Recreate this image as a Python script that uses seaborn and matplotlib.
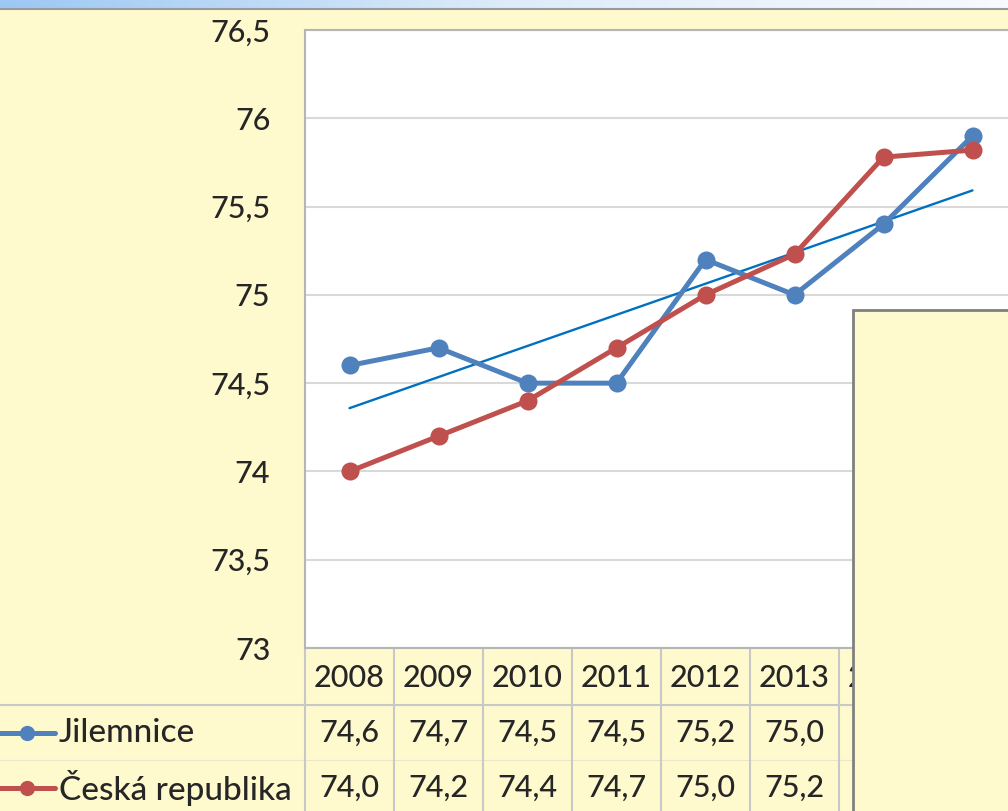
import numpy as np
import pandas as pd
import matplotlib
matplotlib.use("Agg")
import matplotlib.pyplot as plt
import matplotlib.transforms as mtransforms
from matplotlib.patches import Rectangle
from matplotlib.lines import Line2D
import seaborn as sns

# data
years = ["2008", "2009", "2010", "2011", "2012", "2013", "2014", "2015"]
jilemnice = [74.6, 74.7, 74.5, 74.5, 75.2, 75.0, 75.4, 75.9]
cesko = [74.0, 74.2, 74.4, 74.7, 75.0, 75.23, 75.78, 75.82]
series_names = ["Jilemnice", "Česká republika"]
yticks = [73, 73.5, 74, 74.5, 75, 75.5, 76, 76.5]

BG = "#FFFACD"
BLUE = "#4F81BD"
RED = "#C0504D"
GRID = "#D9D9D9"

sns.set_theme(style="white")
plt.rcParams["font.family"] = ["Lato", "DejaVu Sans"]

W, H = 1008, 811
fig = plt.figure(figsize=(W / 100, H / 100), dpi=100)
fig.patch.set_facecolor(BG)


def fx(x):
    return x / W


def fy(y):
    return 1 - y / H


# blue title-bar strip at the top
strip = fig.add_axes([0, fy(8), 1, 8 / H])
grad = np.linspace(0, 1, 256).reshape(1, -1)
cmap = matplotlib.colors.LinearSegmentedColormap.from_list("bar", ["#9CC8F4", "#DDEBFA", "#F7FAFF"])
strip.imshow(grad, aspect="auto", cmap=cmap, extent=[0, 1, 0, 1])
strip.axis("off")
fig.add_artist(Line2D([0, 1], [fy(9), fy(9)], color="#9A9A9A", lw=1.5))

# plot area (extends beyond the right edge, as in the screenshot)
ax = fig.add_axes([fx(305), fy(648), 712 / W, 618 / H])
ax.set_facecolor("white")

df = pd.DataFrame({
    "idx": list(range(len(years))) * 2,
    "value": jilemnice + cesko,
    "series": [series_names[0]] * len(years) + [series_names[1]] * len(years),
})
sns.lineplot(data=df, x="idx", y="value", hue="series", palette=[BLUE, RED],
             marker="o", markersize=13, markeredgewidth=0, linewidth=3.6,
             legend=False, ax=ax, zorder=3)

# linear trend of Jilemnice
xs = np.arange(len(years))
k, q = np.polyfit(xs, jilemnice, 1)
ax.plot(xs, k * xs + q, color="#0070C0", lw=1.7, zorder=2)

ax.set_xlim(-0.5, len(years) - 0.5)
ax.set_ylim(73, 76.5)
ax.set_yticks(yticks)
ax.set_yticklabels([f"{v:g}".replace(".", ",") for v in yticks], fontsize=22,
                   fontweight="medium")
ax.tick_params(axis="y", length=0, pad=25)
ax.set_xticks([])
ax.set_xlabel("")
ax.set_ylabel("")
ax.yaxis.grid(True, color=GRID, lw=1.5)
ax.set_axisbelow(True)
for s in ax.spines.values():
    s.set_color("#B5B5B5")
    s.set_linewidth(1.5)

# data table below the plot
tr = mtransforms.blended_transform_factory(ax.transData, fig.transFigure)
line_c = "#C8C8C8"
for i in range(len(years) + 1):
    ax.add_line(Line2D([i - 0.5, i - 0.5], [fy(648), 0], color=line_c, lw=1.5,
                       transform=tr, clip_on=False))
fig.add_artist(Line2D([0, 1], [fy(705), fy(705)], color=line_c, lw=1.5))
fig.add_artist(Line2D([0, 1], [fy(760), fy(760)], color=line_c, lw=0.8, alpha=0.4))

for i, yr in enumerate(years):
    ax.text(i, fy(678), yr, transform=tr, ha="center", va="center",
            fontsize=22, fontweight="medium", clip_on=False)
    ax.text(i, fy(733), f"{jilemnice[i]:.1f}".replace(".", ","), transform=tr,
            ha="center", va="center", fontsize=22, fontweight="medium", clip_on=False)
    ax.text(i, fy(788), f"{cesko[i]:.1f}".replace(".", ","), transform=tr,
            ha="center", va="center", fontsize=22, fontweight="medium", clip_on=False)

# legend keys in the table
for name, col, yy in [(series_names[0], BLUE, 733), (series_names[1], RED, 788)]:
    fig.add_artist(Line2D([0, fx(55)], [fy(yy), fy(yy)], color=col, lw=3.6))
    fig.add_artist(Line2D([fx(27)], [fy(yy)], color=col, marker="o",
                          markersize=11, markeredgewidth=0))
    fig.text(fx(59), fy(yy), name, ha="left", va="center", fontsize=24,
             fontweight="medium")

# overlapping yellow box
fig.add_artist(Rectangle((fx(853), -0.01), 0.3, fy(310) + 0.01, transform=fig.transFigure,
                         facecolor=BG, edgecolor="#808080", lw=2, zorder=10))

fig.savefig("out.png", dpi=100, facecolor=BG)
